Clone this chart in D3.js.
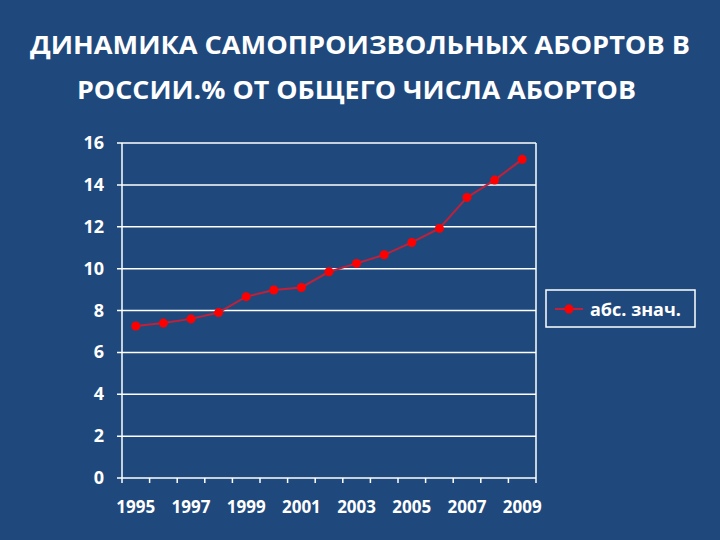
<!DOCTYPE html><html><head><meta charset="utf-8"><script src="https://cdn.jsdelivr.net/npm/d3@7"></script>
<style>body{margin:0;background:#1f497d}svg{display:block}text{font-family:"Open Sans",sans-serif;font-weight:bold;fill:#fff}</style></head><body><svg width="720" height="540"></svg><script>
const years=["1995","1996","1997","1998","1999","2000","2001","2002","2003","2004","2005","2006","2007","2008","2009"];
const values=[7.26,7.4,7.6,7.9,8.66,8.98,9.1,9.85,10.25,10.66,11.25,11.92,13.4,14.23,15.22];
const yTicks=[0,2,4,6,8,10,12,14,16];
const seriesName="абс. знач.";
const svg=d3.select("svg");
svg.append("rect").attr("width",720).attr("height",540).attr("fill","#1f497d");
svg.append("text").attr("x",30).attr("y",54).attr("font-size",25).attr("font-weight",600).attr("textLength",660).attr("lengthAdjust","spacingAndGlyphs").text("ДИНАМИКА САМОПРОИЗВОЛЬНЫХ АБОРТОВ В");
svg.append("text").attr("x",77).attr("y",99).attr("font-size",25).attr("font-weight",600).attr("textLength",559).attr("lengthAdjust","spacingAndGlyphs").text("РОССИИ.% ОТ ОБЩЕГО ЧИСЛА АБОРТОВ");
const L=122,R=536,T=143,B=478;
const x=d3.scaleBand().domain(years).range([L,R]);
const y=d3.scaleLinear().domain([0,16]).range([B,T]);
const g=svg.append("g");
g.selectAll(".gl").data(yTicks).join("line").attr("x1",L-5).attr("x2",R).attr("y1",d=>y(d)).attr("y2",d=>y(d)).attr("stroke","#fff").attr("stroke-width",1.5);
g.append("line").attr("x1",L).attr("x2",L).attr("y1",T).attr("y2",B).attr("stroke","#fff").attr("stroke-width",1.5);
g.append("line").attr("x1",R).attr("x2",R).attr("y1",T).attr("y2",B+5).attr("stroke","#fff").attr("stroke-width",1.5);
g.selectAll(".xt").data(years).join("line").attr("x1",d=>x(d)).attr("x2",d=>x(d)).attr("y1",B).attr("y2",B+5).attr("stroke","#fff").attr("stroke-width",1.5);
g.selectAll(".yl").data(yTicks).join("text").attr("x",L-18).attr("y",d=>y(d)+6).attr("text-anchor","end").attr("font-size",18).text(d=>d);
g.selectAll(".xl").data(years.filter((d,i)=>i%2==0)).join("text").attr("x",d=>x(d)+x.bandwidth()/2).attr("y",B+35).attr("text-anchor","middle").attr("font-size",17).text(d=>d);
const cx=(d,i)=>x(years[i])+x.bandwidth()/2;
g.append("path").datum(values).attr("fill","none").attr("stroke","#c0203a").attr("stroke-width",2).attr("d",d3.line().x((d,i)=>cx(d,i)).y(d=>y(d)));
g.selectAll(".pt").data(values).join("circle").attr("cx",cx).attr("cy",d=>y(d)).attr("r",4.5).attr("fill","#ff0000");
const lg=svg.append("g");
lg.append("rect").attr("x",546).attr("y",290).attr("width",149).attr("height",37).attr("fill","none").attr("stroke","#fff").attr("stroke-width",1.5);
lg.append("line").attr("x1",555).attr("x2",583).attr("y1",309).attr("y2",309).attr("stroke","#c0203a").attr("stroke-width",2);
lg.append("circle").attr("cx",569).attr("cy",309).attr("r",4.5).attr("fill","#ff0000");
lg.append("text").attr("x",590).attr("y",316).attr("font-size",18).text(seriesName);
</script></body></html>
